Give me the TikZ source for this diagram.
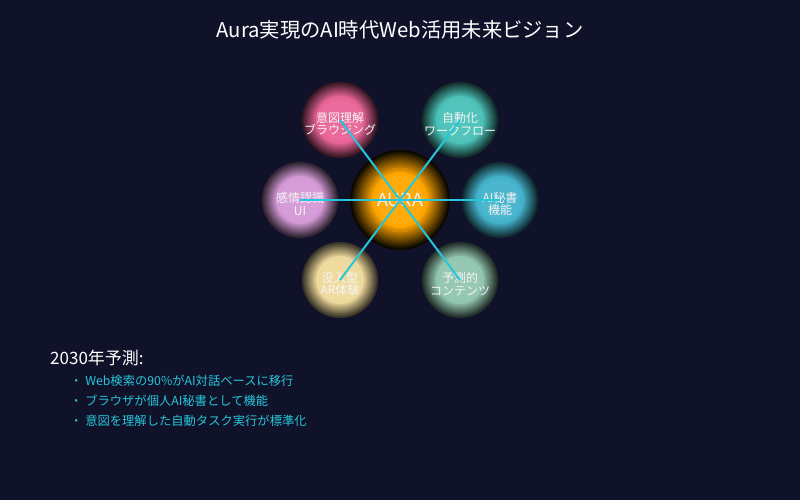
\documentclass[tikz,border=0pt]{standalone}
\usepackage{fontspec}
\setmainfont{Noto Sans CJK JP}
\definecolor{bgnavy}{HTML}{10122A}
\definecolor{linkcyan}{HTML}{26C6DA}
\definecolor{ballpink}{HTML}{EA6598}
\definecolor{ballteal}{HTML}{4CC2B8}
\definecolor{ballblue}{HTML}{45B3CC}
\definecolor{ballplum}{HTML}{D49AD6}
\definecolor{ballsand}{HTML}{EED99C}
\definecolor{ballmint}{HTML}{92C6B0}
\definecolor{auraorange}{HTML}{FFA500}
\newcommand{\glowball}[3]{% name, position, colour
  \begin{scope}[shift={(#2)}]
    \foreach \k in {0,...,8} {
      \pgfmathsetmacro{\rr}{38-\k*1.75}
      \pgfmathtruncatemacro{\pc}{25+\k*9.4}
      \fill[#3!\pc!black] (0,0) circle (\rr);
    }
    \fill[#3!96!white] (0,0) circle (20);
  \end{scope}
  \node[ball] (#1) at (#2) {};
}
\begin{document}
\begin{tikzpicture}[x=1pt, y=-1pt,
  ball/.style={circle, minimum size=76, inner sep=0},
  balltext/.style={text=white!92!gray, align=center, inner sep=0, font=\fontsize{12}{12.5}\selectfont},
  link/.style={linkcyan, line width=2pt},
  point/.style={anchor=west, inner sep=0, text=linkcyan, font=\fontsize{12.3}{14}\selectfont}]
\fill[bgnavy] (0,0) rectangle (800,500);
\useasboundingbox (0,0) rectangle (800,500);
\node[text=white, font=\fontsize{20.3}{24}\selectfont] (title) at (400,30) {Aura実現のAI時代Web活用未来ビジョン};
% AURA core {{{
\begin{scope}[shift={(400,200)}]
  \foreach \k in {0,...,10} {
    \pgfmathsetmacro{\rr}{50-\k*2.2}
    \pgfmathtruncatemacro{\pc}{5+\k*9.5}
    \fill[auraorange!\pc!black] (0,0) circle (\rr);
  }
  \fill[auraorange!95!white] (0,0) circle (24);
\end{scope}
\node[circle, minimum size=100, inner sep=0] (aura) at (400,200) {};
% }}}
% Satellites {{{
\glowball{intent}{340,120}{ballpink}
\glowball{flow}{460,120}{ballteal}
\glowball{emotion}{300,200}{ballplum}
\glowball{secretary}{500,200}{ballblue}
\glowball{immersive}{340,280}{ballsand}
\glowball{predict}{460,280}{ballmint}
% }}}
% Labels {{{
\node[text=white!92!gray, inner sep=0, font=\fontsize{18}{20}\selectfont] (aura-txt) at (aura.center) {AURA};
\node[balltext] (intent-txt) at ([yshift=-4pt]intent.center) {意図理解\\ブラウジング};
\node[balltext] (flow-txt) at ([yshift=-4pt]flow.center) {自動化\\ワークフロー};
\node[balltext] (emotion-txt) at ([yshift=-4pt]emotion.center) {感情認識\\UI};
\node[balltext] (secretary-txt) at ([yshift=-4pt]secretary.center) {AI秘書\\機能};
\node[balltext] (immersive-txt) at ([yshift=-4pt]immersive.center) {没入型\\AR体験};
\node[balltext] (predict-txt) at ([yshift=-4pt]predict.center) {予測的\\コンテンツ};
% }}}
% Links {{{
\foreach \s in {intent,flow,emotion,secretary,immersive,predict} {
  \draw[link] (aura.center) -- (\s.center);
}
% }}}
% 2030 {{{
\node[anchor=west, inner sep=0, text=white, font=\fontsize{17}{19}\selectfont] (forecast) at (50,358) {2030年予測:};
\node[point] (p1) at (70,381) {・ Web検索の90\%がAI対話ベースに移行};
\node[point] (p2) at (70,401) {・ ブラウザが個人AI秘書として機能};
\node[point] (p3) at (70,421) {・ 意図を理解した自動タスク実行が標準化};
% }}}
\end{tikzpicture}
\end{document}
